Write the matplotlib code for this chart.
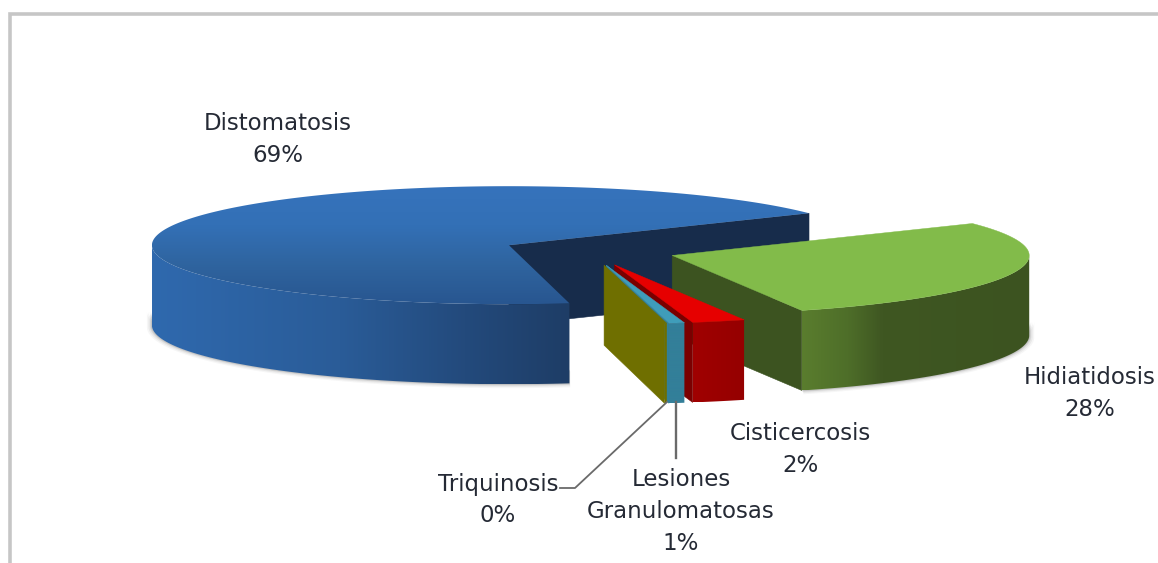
import numpy as np
import matplotlib
matplotlib.use("Agg")
import matplotlib.pyplot as plt
from matplotlib.colors import LinearSegmentedColormap
from matplotlib.patches import Polygon

# ---- data ----
categories = ["Distomatosis", "Triquinosis", "Lesiones\nGranulomatosas", "Cisticercosis", "Hidiatidosis"]
values = [68.6, 0.1, 0.7, 2.4, 28.2]

# ---- style / layout ----
START = 32.8
EXPLODE = 0.245
CX, CY, RX, RY, DEPTH = 589, 251, 357, 59, 80
top_colors = ["#3370b6", "#6f6f00", "#3f9dba", "#e60000", "#82bb4a"]
wall_colors = ["#172c4b", "#6f6f00", "#31809a", "#7a0000", "#3c5320"]
side_stops = [
    [(0, "#2f69ae"), (0.45, "#2a5c98"), (0.75, "#234a7c"), (1, "#1e3d66")],
    [(0, "#6f6f00"), (1, "#6f6f00")],
    [(0, "#337f99"), (1, "#337f99")],
    [(0, "#a00000"), (1, "#950000")],
    [(0, "#5a7d2e"), (0.2, "#4e6e29"), (0.35, "#3f5722"), (1, "#3c5320")],
]
label_pos = [(278, 124), (498, 484), (681, 480), (800, 434), (1090, 378)]
FS = 16.5
LINE_PX = 31.5

fig = plt.figure(figsize=(11.58, 5.63), dpi=100, facecolor="white")
ax = fig.add_axes([0, 0, 1, 1])
ax.axis("off")


def project(a_deg, ox, oy, dz=0.0, grow=0.0):
    a = np.radians(a_deg)
    return np.column_stack([ox + (RX + grow) * np.cos(a), oy - (RY + grow * 0.4) * np.sin(a) + dz])


def front_range(a0, a1):
    """Part of [a0, a1] on the near half of the pie (180..360 degrees)."""
    lo, hi = max(a0, 180), min(a1, 360)
    return (lo, hi) if hi > lo else None


def gradient_fill(pts, cmap, vertical, z):
    """Fill a polygon with a smooth gradient clipped to its outline."""
    patch = Polygon(pts, closed=True, fc="none", ec="none", zorder=z)
    ax.add_patch(patch)
    g = np.linspace(0, 1, 512)
    grad = g.reshape(-1, 1) if vertical else g.reshape(1, -1)
    im = ax.imshow(grad, cmap=cmap, aspect="auto", zorder=z, interpolation="bilinear",
                   extent=(pts[:, 0].min(), pts[:, 0].max(), pts[:, 1].max(), pts[:, 1].min()))
    im.set_clip_path(patch)


fractions = np.array(values) / np.sum(values)
spans = fractions * 360
starts = START + np.concatenate([[0], np.cumsum(spans)[:-1]])
slices = []
for i, (a0, sp) in enumerate(zip(starts, spans)):
    mid = np.radians(a0 + sp / 2)
    ox = CX + EXPLODE * RX * np.cos(mid)
    oy = CY - EXPLODE * RY * np.sin(mid)
    slices.append((i, a0, a0 + sp, ox, oy))


def draw_shadow(a0, a1, ox, oy, z):
    rng = front_range(a0, a1)
    if rng is None:
        return
    th = np.linspace(rng[0], rng[1], 120)
    for k, al in zip([5, 3.5, 2, 1], [0.05, 0.08, 0.12, 0.16]):
        lower = project(th, ox, oy, DEPTH + k * 0.4, grow=k)
        upper = project(th, ox, oy, DEPTH - 14, grow=k)
        ax.add_patch(Polygon(np.vstack([upper, lower[::-1]]), closed=True, fc="#555555", ec="none", alpha=al, zorder=z))


def draw_slice(i, a0, a1, ox, oy, z):
    # radial wall at the start angle
    p = project(np.array([a0]), ox, oy)[0]
    wall = [(ox, oy), tuple(p), (p[0], p[1] + DEPTH), (ox, oy + DEPTH)]
    ax.add_patch(Polygon(wall, closed=True, fc=wall_colors[i], ec=wall_colors[i], lw=0.4, zorder=z))
    # outer wall with horizontal shading
    rng = front_range(a0, a1)
    if rng is not None:
        th = np.linspace(rng[0], rng[1], 160)
        up = project(th, ox, oy)
        low = project(th, ox, oy, DEPTH)
        cmap = LinearSegmentedColormap.from_list("side%d" % i, side_stops[i])
        gradient_fill(np.vstack([up, low[::-1]]), cmap, False, z + 0.1)
    # top face
    arc = project(np.linspace(a0, a1, 300), ox, oy)
    pts = np.vstack([[ox, oy], arc])
    if i == 0:
        cm = LinearSegmentedColormap.from_list("top", ["#3673bc", "#3370b6", "#2f649f", "#285690"])
        gradient_fill(pts, cm, True, z + 0.2)
    else:
        ax.add_patch(Polygon(pts, closed=True, fc=top_colors[i], ec=top_colors[i], lw=0.3, zorder=z + 0.2))


# back to front: Distomatosis, Hidiatidosis, Cisticercosis, Lesiones, Triquinosis
for z, idx in enumerate([0, 4, 3, 2, 1]):
    i, a0, a1, ox, oy = slices[idx]
    if idx in (0, 4):
        draw_shadow(a0, a1, ox, oy, 1 + z)
    draw_slice(i, a0, a1, ox, oy, 2 + z)

# chart frame
ax.plot([10, 10, 1158], [563, 14, 14], color="#c6c6c6", lw=2.6, solid_joinstyle="miter", zorder=0.5)

# leader lines
ax.plot([560, 575, 667], [488, 488, 402], color="#6a6a6a", lw=1.3, zorder=10)
ax.plot([676, 676], [402, 458], color="#6a6a6a", lw=1.7, zorder=10)

# labels
for name, v, (x, y) in zip(categories, values, label_pos):
    lines = name.split("\n") + ["%d%%" % round(v)]
    for n, line in enumerate(lines):
        ax.text(x, y + n * LINE_PX, line, ha="center", va="center", fontsize=FS,
                family="DejaVu Sans", color="#252a35", zorder=11)

ax.set_xlim(0, 1158)
ax.set_ylim(563, 0)
fig.savefig("out.png", dpi=100, facecolor="white")
